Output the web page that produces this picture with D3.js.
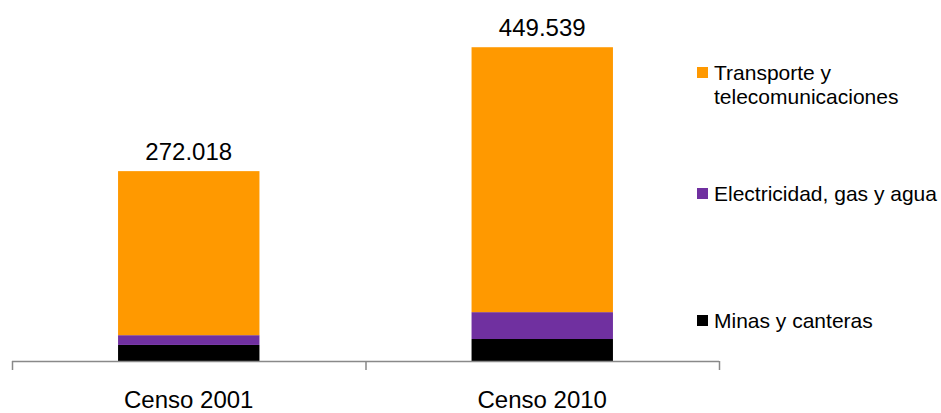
<!DOCTYPE html>
<html>
<head>
<meta charset="utf-8">
<script src="https://cdn.jsdelivr.net/npm/d3@7"></script>
<style>
  html, body { margin: 0; padding: 0; background: #fff; }
  svg { display: block; font-family: "Liberation Sans", Arial, sans-serif; }
</style>
</head>
<body>
<svg id="chart" width="941" height="413"></svg>
<script>
const categories = ["Censo 2001", "Censo 2010"];
const seriesNames = ["Minas y canteras", "Electricidad, gas y agua", "Transporte y telecomunicaciones"];
const minas = [23000, 31500];
const electricidad = [14000, 38500];
const transporte = [235018, 379539];
const totalLabels = ["272.018", "449.539"];
const colors = ["#000000", "#7030A0", "#FF9900"];

const svg = d3.select("#chart");

const x = d3.scaleBand().domain(categories).range([12, 719]).paddingInner(0.6).paddingOuter(0.3);
const y = d3.scaleLinear().domain([0, 500000]).range([361, 12]);

const rows = categories.map((c, i) => ({cat: c, s0: minas[i], s1: electricidad[i], s2: transporte[i], label: totalLabels[i]}));
const stack = d3.stack().keys(["s0", "s1", "s2"]);
const layers = stack(rows);

svg.append("g").selectAll("g").data(layers).join("g")
  .attr("fill", (d, i) => colors[i])
  .selectAll("rect").data(d => d).join("rect")
  .attr("x", d => x(d.data.cat))
  .attr("width", x.bandwidth())
  .attr("y", d => y(d[1]))
  .attr("height", d => y(d[0]) - y(d[1]));

// total labels
svg.append("g").selectAll("text").data(layers[2]).join("text")
  .attr("x", d => x(d.data.cat) + x.bandwidth() / 2)
  .attr("y", d => y(d[1]) - 11)
  .attr("text-anchor", "middle")
  .attr("font-size", 24)
  .attr("fill", "#000")
  .text(d => d.data.label);

// axis
const axisColor = "#898989";
const ax = svg.append("g");
ax.append("line").attr("x1", 12).attr("x2", 719).attr("y1", 361.5).attr("y2", 361.5)
  .attr("stroke", axisColor).attr("stroke-width", 1.5);
const tickXs = [x.range()[0]].concat(categories.map(c => x(c) - x.step() * x.paddingInner() / 2 + x.step())).slice(0, 3);
const bounds = [12, (12 + 719) / 2, 719];
ax.selectAll("line.tick").data(bounds).join("line").attr("class", "tick")
  .attr("x1", d => d + 0.5).attr("x2", d => d + 0.5).attr("y1", 361).attr("y2", 370)
  .attr("stroke", axisColor).attr("stroke-width", 1.5);
ax.selectAll("text").data(categories).join("text")
  .attr("x", d => x(d) + x.bandwidth() / 2)
  .attr("y", 408)
  .attr("text-anchor", "middle")
  .attr("font-size", 24)
  .attr("fill", "#000")
  .text(d => d);

// legend
const legend = [
  {name: seriesNames[2], lines: ["Transporte y", "telecomunicaciones"], color: colors[2], y: 80},
  {name: seriesNames[1], lines: ["Electricidad, gas y agua"], color: colors[1], y: 201},
  {name: seriesNames[0], lines: ["Minas y canteras"], color: colors[0], y: 328}
];
const lg = svg.append("g").selectAll("g").data(legend).join("g");
lg.append("rect").attr("x", 697).attr("y", d => d.y - 13).attr("width", 11).attr("height", 11).attr("fill", d => d.color);
lg.append("text").attr("x", 714).attr("y", d => d.y).attr("font-size", 21).attr("fill", "#000")
  .selectAll("tspan").data(d => d.lines).join("tspan")
  .attr("x", 714).attr("dy", (d, i) => i === 0 ? 0 : 24).text(d => d);
</script>
</body>
</html>
